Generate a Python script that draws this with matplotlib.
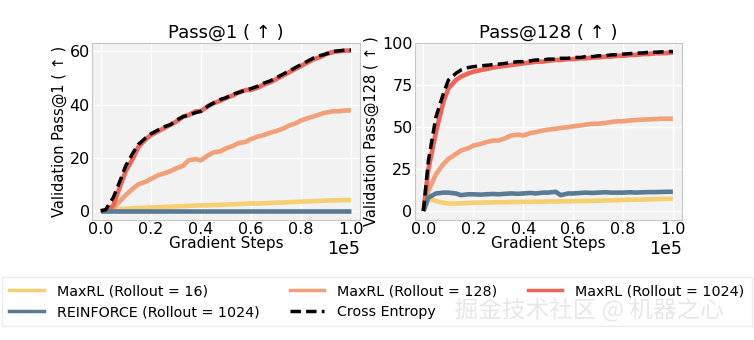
import numpy as np
import matplotlib.pyplot as plt
from matplotlib.lines import Line2D
from matplotlib.ticker import FuncFormatter
import matplotlib.patheffects as pe

# gradient steps (in units of 1e5)
steps = [0.0, 0.02, 0.05, 0.08, 0.10, 0.13, 0.15, 0.18, 0.20, 0.23, 0.25, 0.28, 0.30, 0.33,
         0.35, 0.38, 0.40, 0.43, 0.45, 0.48, 0.50, 0.53, 0.55, 0.58, 0.60, 0.63, 0.65,
         0.68, 0.70, 0.73, 0.75, 0.78, 0.80, 0.83, 0.85, 0.88, 0.90, 0.93, 0.95, 0.98, 1.0]

# Pass@1
p1_r16 = [0.0, 0.2, 0.5, 0.7, 0.8, 1.0, 1.1, 1.2, 1.3, 1.4, 1.5, 1.6, 1.7, 1.8,
          1.9, 2.0, 2.1, 2.1, 2.2, 2.3, 2.4, 2.5, 2.6, 2.7, 2.8, 2.8, 2.9,
          3.0, 3.1, 3.2, 3.3, 3.4, 3.5, 3.6, 3.7, 3.8, 3.9, 4.0, 4.0, 4.1, 4.1]
p1_r128 = [0.0, 0.0, 1.0, 4.0, 6.0, 8.5, 10.0, 11.0, 12.0, 13.5, 14.0, 15.0, 16.0, 17.0,
           19.0, 19.5, 19.0, 21.0, 22.0, 22.5, 23.5, 24.5, 25.5, 26.0, 27.0, 28.0, 28.5,
           29.5, 30.0, 31.0, 32.0, 33.0, 34.0, 35.0, 35.5, 36.5, 37.0, 37.5, 37.5, 37.8, 37.8]
p1_r1024 = [0.0, 0.0, 2.0, 10.0, 15.0, 20.0, 24.0, 27.0, 28.5, 30.0, 31.0, 32.5, 33.5, 35.5,
            36.0, 37.5, 37.5, 39.5, 40.5, 41.5, 42.5, 43.5, 44.5, 45.5, 45.5, 46.5, 47.5,
            48.5, 49.5, 51.0, 52.0, 53.5, 54.5, 56.0, 57.0, 58.0, 59.0, 59.8, 60.0, 60.3, 60.3]
p1_reinforce = [0.0] * 41
p1_ce = [0.0, 0.5, 5.0, 12.0, 17.0, 22.0, 25.0, 27.5, 29.0, 30.5, 31.5, 32.5, 34.0, 35.5,
         36.0, 37.0, 37.5, 39.5, 40.5, 42.0, 42.5, 44.0, 44.5, 45.5, 46.0, 47.0, 48.0,
         49.0, 50.0, 51.5, 52.5, 54.0, 55.0, 56.5, 57.5, 58.5, 59.0, 60.0, 60.2, 60.5, 60.5]

# Pass@128
p128_r16 = [0.0, 7.5, 6.0, 5.0, 4.5, 4.5, 4.6, 4.8, 5.0, 5.0, 5.1, 5.2, 5.3, 5.3,
            5.4, 5.4, 5.5, 5.5, 5.6, 5.6, 5.7, 5.7, 5.8, 5.8, 5.9, 6.0, 6.0,
            6.1, 6.2, 6.3, 6.4, 6.5, 6.6, 6.7, 6.8, 6.9, 7.0, 7.1, 7.2, 7.3, 7.4]
p128_r128 = [0.0, 12.0, 22.0, 28.0, 31.0, 34.0, 36.0, 37.5, 39.0, 40.0, 41.0, 42.0, 42.0, 43.5,
             45.0, 45.5, 45.0, 46.5, 47.0, 48.0, 48.5, 49.0, 49.5, 50.0, 50.5, 51.0, 51.5,
             52.0, 52.0, 52.5, 53.0, 53.5, 53.5, 54.0, 54.2, 54.5, 54.6, 54.8, 55.0, 55.0, 55.0]
p128_r1024 = [0.0, 25.0, 47.0, 65.0, 73.0, 78.0, 80.0, 82.0, 83.0, 84.0, 84.5, 85.5, 86.0, 86.5,
              87.0, 87.5, 88.0, 88.5, 89.0, 89.0, 89.5, 90.0, 90.0, 90.5, 90.5, 91.0, 91.0,
              91.5, 91.5, 92.0, 92.0, 92.5, 92.5, 93.0, 93.0, 93.5, 93.5, 94.0, 94.0, 94.2, 94.5]
p128_reinforce = [0.0, 8.0, 10.5, 11.0, 11.0, 10.5, 9.5, 10.0, 10.0, 9.8, 10.0, 10.2, 10.0, 10.3,
                  10.5, 10.3, 10.5, 10.8, 10.5, 11.0, 11.0, 11.5, 9.5, 10.5, 10.5, 10.8, 11.0,
                  10.8, 11.0, 11.2, 11.0, 11.0, 11.0, 11.2, 11.0, 11.2, 11.3, 11.3, 11.4, 11.5, 11.5]
p128_ce = [0.0, 30.0, 56.0, 70.0, 78.0, 82.0, 84.0, 85.5, 86.0, 86.5, 86.8, 87.2, 87.5, 88.0,
           88.5, 89.0, 89.0, 89.5, 90.0, 90.0, 90.5, 90.5, 91.0, 91.0, 91.5, 91.5, 92.0,
           92.0, 92.5, 92.5, 93.0, 93.2, 93.5, 93.8, 94.0, 94.2, 94.5, 94.6, 94.8, 95.0, 95.0]

labels = ['MaxRL (Rollout = 16)', 'MaxRL (Rollout = 128)', 'MaxRL (Rollout = 1024)',
          'REINFORCE (Rollout = 1024)', 'Cross Entropy']
colors = ['#f5cf70', '#f39f78', '#ee6558', '#587a94', 'black']

plt.rcParams['font.family'] = ['DejaVu Sans']
fig = plt.figure(figsize=(7.54, 3.40), dpi=100)
ax1 = fig.add_axes([0.122, 0.353, 0.355, 0.52])
ax2 = fig.add_axes([0.550, 0.353, 0.354, 0.52])

x = np.array(steps) * 1e5
panels = [(ax1, [p1_r16, p1_r128, p1_r1024, p1_reinforce, p1_ce], 'Pass@1 ( ↑ )',
           'Validation Pass@1 ( ↑ )', (-3.4, 63.1), [0, 20, 40, 60]),
          (ax2, [p128_r16, p128_r128, p128_r1024, p128_reinforce, p128_ce], 'Pass@128 ( ↑ )',
           'Validation Pass@128 ( ↑ )', (-5.3, 100), [0, 25, 50, 75, 100])]

for ax, series, title, ylabel, ylim, yticks in panels:
    ax.set_facecolor('#f2f2f2')
    ax.grid(True, color='white', linewidth=1.0)
    ax.set_axisbelow(True)
    for sp in ax.spines.values():
        sp.set_color('#c8c8c8')
    for i, y in enumerate(series):
        if i == 4:
            ax.plot(x, y, color='black', linestyle='--', linewidth=2.5, dashes=(3, 1.5), zorder=5)
        else:
            ax.plot(x, y, color=colors[i], linewidth=3.3, solid_capstyle='butt')
    ax.set_xlim(-0.035e5, 1.035e5)
    ax.set_ylim(*ylim)
    ax.set_yticks(yticks)
    ax.set_xticks(np.linspace(0, 1e5, 6))
    ax.xaxis.set_major_formatter(FuncFormatter(lambda v, p: '%.1f' % (v / 1e5)))
    ax.text(1.0, -0.115, '1e5', transform=ax.transAxes, ha='right', va='top', fontsize=12.5)
    ax.tick_params(labelsize=11.5, length=0, pad=1.5)
    ax.set_title(title, fontsize=13, pad=4)
    ax.set_ylabel(ylabel, fontsize=10.5, labelpad=2)
    ax.set_xlabel('Gradient Steps', fontsize=11, labelpad=-1)

handles = []
for i in range(5):
    if i == 4:
        handles.append(Line2D([], [], color='black', linestyle='--', linewidth=2.5, dashes=(3, 1.5)))
    else:
        handles.append(Line2D([], [], color=colors[i], linewidth=2.5))

order = [0, 3, 1, 4, 2]
fig.legend([handles[i] for i in order], [labels[i] for i in order], ncol=3,
           loc='lower left', bbox_to_anchor=(0.003, 0.04, 0.994, 0.16), mode='expand',
           fontsize=10.3, frameon=True, edgecolor='#e6e6e6', fancybox=False,
           handlelength=2.4, handletextpad=0.9, borderaxespad=0, borderpad=0.5,
           columnspacing=1.0)

fig.text(0.603, 0.088, '掘金技术社区 @ 机器之心', fontsize=17, color='#8a8a8a', va='center',
         family=['Noto Sans CJK SC', 'DejaVu Sans'],
         path_effects=[pe.withStroke(linewidth=2, foreground='white')])

fig.savefig('out.png', dpi=100)
